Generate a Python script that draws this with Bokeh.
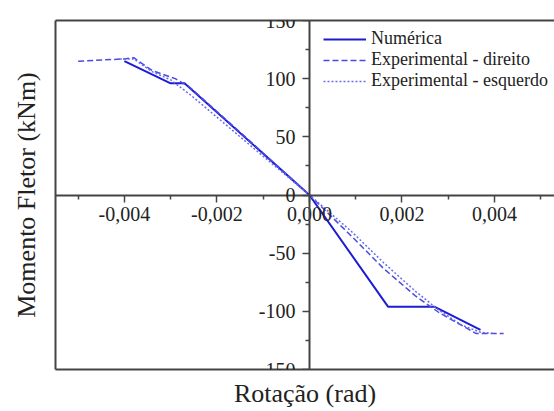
from bokeh.plotting import figure
from bokeh.models import (Range1d, LinearAxis, FixedTicker, CustomJSTickFormatter,
                          Legend, LegendItem)
from bokeh.embed import file_html
from bokeh.resources import INLINE

# --- data ---
num_x = [-0.0040, -0.0030, -0.0027, 0.0, 0.0017, 0.0027, 0.0037]
num_y = [115, 96, 96, 0, -96, -96, -116]

dir_x = [-0.0050, -0.0045, -0.0040, -0.0038, -0.0034, -0.0029, -0.0026, -0.0015,
         0.0, 0.0009, 0.0016, 0.0023, 0.0028, 0.0036, 0.0042]
dir_y = [115, 116, 117, 118, 107, 100, 93, 54,
         0, -35, -63, -87, -101, -119, -119]

esq_x = [-0.0041, -0.0038, -0.0034, -0.0030, -0.00257, -0.0023, -0.0012,
         0.0, 0.0009, 0.0016, 0.0023, 0.0028, 0.0033, 0.0037, 0.0040]
esq_y = [117, 117, 106, 99, 86, 77, 40,
         0, -31, -58, -83, -99, -112, -118, -119]

x_major = [-0.004, -0.002, 0.0, 0.002, 0.004]
x_minor = [-0.005, -0.003, -0.001, 0.001, 0.003, 0.005]
y_major = [-150, -100, -50, 0, 50, 100, 150]
y_minor = [-125, -75, -25, 25, 75, 125]

labels = ["Numérica", "Experimental - direito", "Experimental - esquerdo"]

FONT = "Liberation Serif"
AX = "#444444"
TXT = "#222222"

p = figure(width=554, height=411, output_backend="svg", toolbar_location=None,
           x_range=Range1d(-0.00549, 0.0053), y_range=Range1d(-150, 150),
           x_axis_location=None, y_axis_location=None,
           min_border_left=55, min_border_right=0, min_border_top=20,
           min_border_bottom=42)
p.outline_line_color = None
p.background_fill_color = "white"

# crossing axes through the origin
xa = LinearAxis(fixed_location=0,
                ticker=FixedTicker(ticks=x_major, minor_ticks=x_minor),
                formatter=CustomJSTickFormatter(code="return tick.toFixed(3).replace('.', ',');"))
ya = LinearAxis(fixed_location=0,
                ticker=FixedTicker(ticks=y_major, minor_ticks=y_minor),
                formatter=CustomJSTickFormatter(code="return tick.toFixed(0);"))
for a in (xa, ya):
    a.axis_line_color = AX
    a.axis_line_width = 2
    a.major_tick_line_color = AX
    a.major_tick_line_width = 1.5
    a.minor_tick_line_color = AX
    a.minor_tick_line_width = 1.5
    a.major_tick_in = 0
    a.major_tick_out = 7
    a.minor_tick_in = 0
    a.minor_tick_out = 4
    a.major_label_text_font = FONT
    a.major_label_text_font_size = "20px"
    a.major_label_text_color = TXT
xa.major_label_standoff = 5
ya.major_label_standoff = 7
p.add_layout(xa, "below")
p.add_layout(ya, "left")

# frame lines with axis titles
def frame_axis(label=None):
    a = LinearAxis(ticker=FixedTicker(ticks=[], minor_ticks=[]))
    a.axis_line_color = AX
    a.axis_line_width = 2
    a.major_tick_in = 0
    a.major_tick_out = 0
    a.minor_tick_in = 0
    a.minor_tick_out = 0
    a.major_label_standoff = 0
    a.major_label_text_font_size = "0px"
    if label:
        a.axis_label = label
        a.axis_label_text_font = FONT
        a.axis_label_text_font_style = "normal"
        a.axis_label_text_color = TXT
        a.axis_label_text_font_size = "26px"
    return a

bx = frame_axis("Rotação (rad)")
bx.axis_label_standoff = 9
p.add_layout(bx, "below")

ly = frame_axis("Momento Fletor (kNm)")
ly.axis_label_standoff = 15
p.add_layout(ly, "left")

tx = frame_axis()
p.add_layout(tx, "above")

p.grid.visible = False

r1 = p.line(num_x, num_y, line_color="#1c1cd4", line_width=2)
r2 = p.line(dir_x, dir_y, line_color="#4a4ae6", line_width=1.5, line_dash="6 3")
r3 = p.line(esq_x, esq_y, line_color="#6a6af0", line_width=1.5, line_dash="2 2")

legend = Legend(items=[LegendItem(label=labels[0], renderers=[r1]),
                       LegendItem(label=labels[1], renderers=[r2]),
                       LegendItem(label=labels[2], renderers=[r3])],
                location=(268, 278))
legend.label_text_font = FONT
legend.label_text_font_size = "18px"
legend.label_text_color = TXT
legend.glyph_width = 43
legend.glyph_height = 20
legend.label_height = 20
legend.label_standoff = 5
legend.spacing = 0
legend.padding = 0
legend.margin = 0
legend.border_line_color = None
legend.background_fill_alpha = 0
p.add_layout(legend, "center")

open("out.html", "w").write(file_html(p, INLINE))
